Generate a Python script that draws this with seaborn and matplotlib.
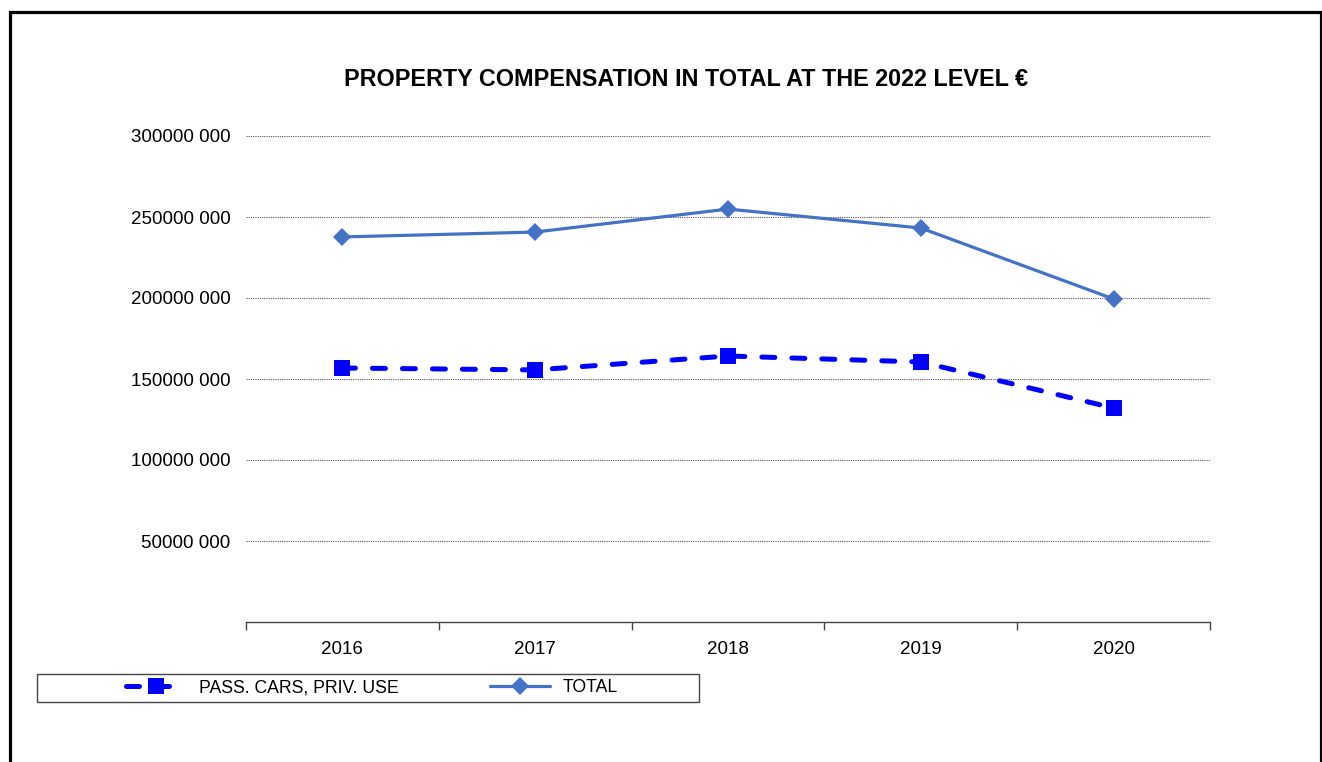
import matplotlib
matplotlib.use('Agg')
import matplotlib.pyplot as plt
from matplotlib.patches import Rectangle
from matplotlib.ticker import FuncFormatter, FixedLocator
import pandas as pd
import seaborn as sns

years = ['2016', '2017', '2018', '2019', '2020']
pass_cars = [156.8e6, 155.6e6, 164.2e6, 160.5e6, 132.1e6]
total = [237.7e6, 240.7e6, 254.9e6, 243.2e6, 199.4e6]
yticks = [50e6, 100e6, 150e6, 200e6, 250e6, 300e6]

sns.set_theme(style='white')
plt.rcParams['font.family'] = ['Liberation Sans', 'DejaVu Sans']

df = pd.DataFrame({'year': years, 'pass': pass_cars, 'total': total})

W, H = 1322, 762
fig = plt.figure(figsize=(W / 100, H / 100), dpi=100)
ax = fig.add_axes([246 / W, 1 - 622 / H, 964 / W, 486 / H])

sns.lineplot(data=df, x='year', y='pass', ax=ax, color='#0000FF', lw=3.6,
             marker='s', markersize=11, markeredgewidth=0,
             label='PASS. CARS, PRIV. USE')
ln = ax.lines[-1]
ln.set_dashes([2.6, 3.4])
ln.set_dash_capstyle('round')
sns.lineplot(data=df, x='year', y='total', ax=ax, color='#4472C4', lw=2.3,
             marker='D', markersize=9.5, markeredgewidth=0,
             label='TOTAL')

ax.set_xlim(-0.5, len(years) - 0.5)
ax.set_ylim(0, 300e6)
ax.set_xlabel('')
ax.set_ylabel('')

ax.set_yticks(yticks)
ax.yaxis.set_major_formatter(FuncFormatter(lambda v, p: f"{int(v) // 1000} {int(v) % 1000:03d}"))
ax.tick_params(axis='y', length=0, pad=11, labelsize=13.5, labelcolor='black')
ax.grid(axis='y', color='#555555', linestyle=(0, (1, 1)), linewidth=0.8)

ax.set_xticks(range(len(years)))
ax.set_xticklabels(years)
ax.xaxis.set_minor_locator(FixedLocator([i - 0.5 for i in range(len(years) + 1)]))
ax.tick_params(axis='x', which='major', length=0, pad=14, labelsize=13.5, labelcolor='black')
ax.tick_params(axis='x', which='minor', bottom=True, length=6, width=1, color='#444444', direction='out')

for s in ['top', 'right', 'left']:
    ax.spines[s].set_visible(False)
ax.spines['bottom'].set_color('#444444')
ax.spines['bottom'].set_linewidth(1)

fig.text(686 / W, 1 - 79 / H, 'PROPERTY COMPENSATION IN TOTAL AT THE 2022 LEVEL €',
         fontsize=16.8, fontweight='bold', color='black', ha='center', va='center')

# legend box
fig.patches.append(Rectangle((37 / W, 1 - 702 / H), 662 / W, 28 / H,
                             transform=fig.transFigure, fill=False, edgecolor='#444444',
                             linewidth=1))
leg = ax.legend(loc='center', bbox_to_anchor=(372 / W, 1 - 688 / H),
                bbox_transform=fig.transFigure, ncol=2, frameon=False,
                fontsize=12.7, handlelength=3.4, handletextpad=0.7,
                columnspacing=5.2, borderaxespad=0, borderpad=0)
for t in leg.get_texts():
    t.set_color('black')

fig.patches.append(Rectangle((9.5 / W, -0.05), 1311 / W, 1 - 12 / H + 0.05,
                             transform=fig.transFigure, fill=False, edgecolor='black',
                             linewidth=2.3))

fig.savefig('out.png', dpi=100, facecolor='white')
